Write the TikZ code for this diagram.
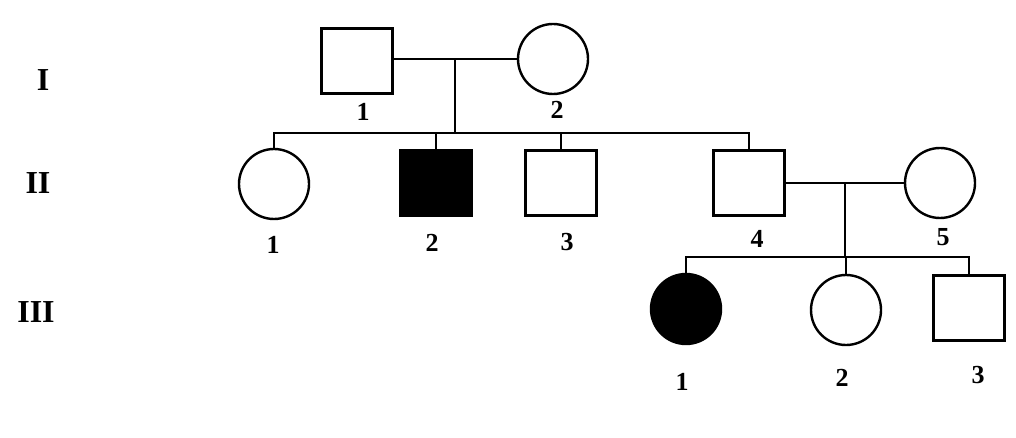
\documentclass[tikz,border=0pt]{standalone}
\usepackage{fontspec}
\setmainfont{Liberation Serif}
\usetikzlibrary{positioning, calc}

\begin{document}
\begin{tikzpicture}[x=1pt, y=-1pt, line width=2.4pt,
  male/.style={draw, rectangle, minimum width=71pt, minimum height=65pt, inner sep=0pt},
  female/.style={draw, circle, minimum size=70pt, inner sep=0pt},
  affected/.style={fill=black},
  num/.style={font=\bfseries\fontsize{26}{26}\selectfont, inner sep=0pt},
  gen/.style={font=\bfseries\fontsize{32}{32}\selectfont, inner sep=0pt}]
  \useasboundingbox (0,0) rectangle (1016,438);

  % generation labels
  \node[gen] (gI)   at (43,80)  {I};
  \node[gen] (gII)  at (38,183) {II};
  \node[gen] (gIII) at (36,312) {III};

  % generation I
  \node[male]   (i1) at (357,61) {};
  \node[female] (i2) at (553,59) {};
  \node[num] (n-i1) at (363,112) {1};
  \node[num] (n-i2) at (557,110) {2};

  % generation II
  \node[female]          (ii1) at (274,184) {};
  \node[male, affected]  (ii2) at (436,183) {};
  \node[male]            (ii3) at (561,183) {};
  \node[male]            (ii4) at (749,183) {};
  \node[female]          (ii5) at (940,183) {};
  \node[num] (n-ii1) at (273,245) {1};
  \node[num] (n-ii2) at (432,243) {2};
  \node[num] (n-ii3) at (567,242) {3};
  \node[num] (n-ii4) at (757,239) {4};
  \node[num] (n-ii5) at (943,237) {5};

  % generation III
  \node[female, affected] (iii1) at (686,309) {};
  \node[female]           (iii2) at (846,310) {};
  \node[male]             (iii3) at (969,308) {};
  \node[num] (n-iii1) at (682,382) {1};
  \node[num] (n-iii2) at (842,378) {2};
  \node[num] (n-iii3) at (978,375) {3};

  % I-1 x I-2
  \draw (i1.east |- i2.west) -- (i2.west);
  \coordinate (m1) at ($(i1.east |- i2.west)!0.5!(i2.west)$);
  \coordinate (s1) at ($(m1)+(0,74)$);
  \draw (m1) -- (s1);
  \draw (ii1.north) -- (ii1.north |- s1) -- (ii4.north |- s1) -- (ii4.north);
  \foreach \k in {ii2,ii3}
    \draw (\k.north |- s1) -- (\k.north);

  % II-4 x II-5
  \draw (ii4) -- (ii5);
  \coordinate (m2) at ($(ii4.east)!0.5!(ii5.west)$);
  \coordinate (s2) at ($(m2)+(0,74)$);
  \draw (m2) -- (s2);
  \draw (iii1.north) -- (iii1.north |- s2) -- (iii3.north |- s2) -- (iii3.north);
  \draw (iii2.north |- s2) -- (iii2.north);
\end{tikzpicture}
\end{document}
